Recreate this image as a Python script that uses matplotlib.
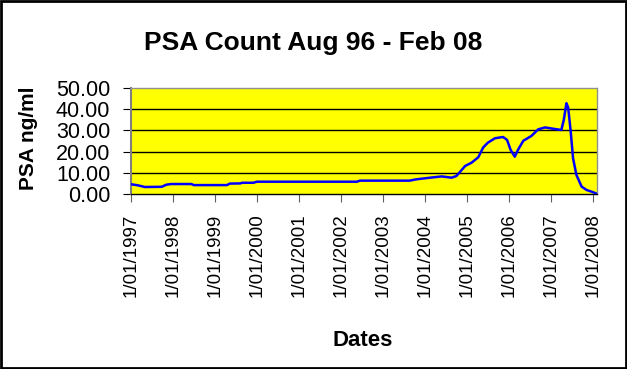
import matplotlib
matplotlib.use("Agg")
import matplotlib.pyplot as plt
import pandas as pd
from matplotlib.patches import Rectangle

plt.rcParams['font.family'] = ['Liberation Sans', 'DejaVu Sans']

# --- données ---
dates = [
    "1997-01-01", "1997-03-01", "1997-05-01", "1997-09-25", "1997-11-05",
    "1997-12-15", "1998-06-10", "1998-07-01", "1999-04-15", "1999-05-10",
    "1999-08-10", "1999-08-25", "1999-12-01", "2000-01-01", "2002-05-20",
    "2002-06-15", "2003-08-20", "2003-10-15", "2004-02-15", "2004-05-25",
    "2004-08-20", "2004-10-01", "2004-12-15", "2005-02-10", "2005-04-08",
    "2005-05-22", "2005-07-01", "2005-09-01", "2005-11-10", "2005-12-15",
    "2006-01-15", "2006-02-20", "2006-03-20", "2006-05-05", "2006-07-15",
    "2006-09-12", "2006-11-10", "2007-01-18", "2007-04-01", "2007-04-22",
    "2007-05-15", "2007-05-30", "2007-06-20", "2007-07-12", "2007-08-10",
    "2007-09-24", "2007-11-06", "2007-12-20", "2008-01-26",
]
psa = [
    4.6, 4.1, 3.3, 3.4, 4.4,
    4.7, 4.7, 4.2, 4.2, 4.9,
    5.0, 5.3, 5.3, 5.8, 5.8,
    6.3, 6.3, 6.9, 7.7, 8.3,
    7.7, 8.5, 13.2, 14.8, 17.3,
    22.0, 24.2, 26.3, 26.9, 25.5,
    20.8, 17.6, 20.8, 25.1, 27.4,
    30.5, 31.4, 30.8, 30.2, 34.9,
    42.8, 40.9, 30.2, 16.8, 9.0,
    3.5, 1.9, 1.1, 0.3,
]
tick_years = list(range(1997, 2009))
tick_labels = [f"1/01/{y}" for y in tick_years]
y_ticks = [0, 10, 20, 30, 40, 50]

t = pd.to_datetime(dates)

fig = plt.figure(figsize=(6.27, 3.69), dpi=100)
fig.patch.set_facecolor('white')
ax = fig.add_axes([131/627, 1 - 194/369, 466/627, 106/369])
ax.set_facecolor('#FFFF00')

# grille horizontale
for v in y_ticks[1:-1]:
    ax.axhline(v, color='black', lw=1, zorder=1)

ax.plot(t, psa, color='#0000FF', lw=1.8, zorder=3)

ax.set_xlim(pd.Timestamp("1997-01-01"), pd.Timestamp("2008-02-05"))
ax.set_ylim(0, 50)
ax.set_yticks(y_ticks)
ax.set_yticklabels([f"{v:.2f}" for v in y_ticks], fontsize=15.5)
ax.set_xticks([pd.Timestamp(f"{y}-01-01") for y in tick_years])
ax.set_xticklabels(tick_labels, rotation=90, fontsize=13.5)
ax.tick_params(axis='y', length=6, pad=9, color='black')
ax.tick_params(axis='x', length=6, pad=8, color='#606060')

for s in ['top', 'right']:
    ax.spines[s].set_color('#909090')
    ax.spines[s].set_linestyle((0, (2, 1)))
    ax.spines[s].set_linewidth(1)
ax.spines['left'].set_color('#808080')
ax.spines['left'].set_linewidth(1.5)
ax.spines['bottom'].set_color('black')
ax.spines['bottom'].set_linewidth(1)

fig.text(313/627, 1 - 50/369, "PSA Count Aug 96 - Feb 08", fontsize=19,
         fontweight='bold', ha='center', va='baseline')
fig.text(29/627, 1 - 138/369, "PSA ng/ml", fontsize=15, fontweight='bold',
         rotation=90, ha='center', va='center')
fig.text(363/627, 1 - 346.5/369, "Dates", fontsize=16, fontweight='bold',
         ha='center', va='baseline')

# cadre noir autour de la figure
fig.patches.append(Rectangle((0.0015, 0.0025), 0.997, 0.995, transform=fig.transFigure,
                             fill=False, edgecolor='black', lw=2))

fig.savefig("out.png", dpi=100)
